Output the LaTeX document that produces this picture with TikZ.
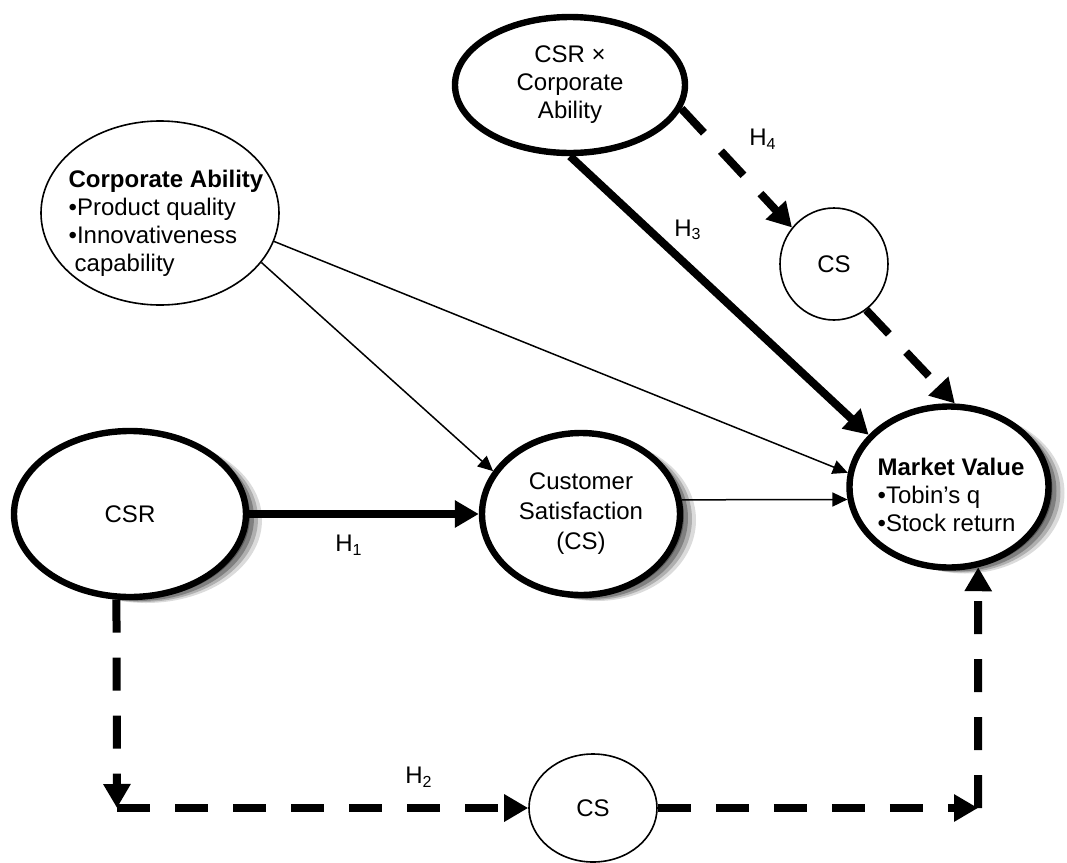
\documentclass[tikz,border=0pt]{standalone}
\usepackage{fontspec}
\setmainfont{Liberation Sans}
\usetikzlibrary{arrows.meta,shapes.geometric,shadows}
\begin{document}
\begin{tikzpicture}[x=0.5pt,y=-0.5pt,
  every node/.style={font=\fontsize{12}{14}\selectfont},
  oval/.style={ellipse, draw, fill=white, inner sep=0pt, line width=0.8pt},
  boldoval/.style={oval, line width=3.2pt},
  softshadow/.style={
    drop shadow={shadow xshift=2pt, shadow yshift=-1pt, opacity=0.3, fill=black, draw=none},
    drop shadow={shadow xshift=4pt, shadow yshift=-2pt, opacity=0.27, fill=black, draw=none},
    drop shadow={shadow xshift=6pt, shadow yshift=-2.5pt, opacity=0.2, fill=black, draw=none},
    drop shadow={shadow xshift=8pt, shadow yshift=-3pt, opacity=0.14, fill=black, draw=none}},
  thinarr/.style={line width=0.75pt, -{Triangle[length=7.5pt,width=7pt]}},
  thickarr/.style={line width=4pt, -{Triangle[length=12pt,width=13pt]}},
  dasharr/.style={thickarr, dash pattern=on 16.5pt off 12.5pt},
  hlabel/.style={inner sep=1pt}
]
\useasboundingbox (0,0) rectangle (1067,863);

% nodes
\node[boldoval, minimum width=115pt, minimum height=68pt, align=center] (csrca) at (570,85)
  {CSR \texttimes\\Corporate\\Ability};
\node[oval, minimum width=119pt, minimum height=92pt] (ca) at (160,213) {};
\node[align=left, inner sep=0pt] (catext) at (166,223)
  {\textbf{Corporate Ability}\\•Product quality\\•Innovativeness\\\hspace{3pt}capability};
\node[boldoval, softshadow, minimum width=116pt, minimum height=83pt] (csr) at (130,514) {CSR};
\node[boldoval, softshadow, minimum width=99pt, minimum height=81pt, align=center,
  font=\fontsize{12}{15}\selectfont] (custsat) at (581,514)
  {Customer\\Satisfaction\\(CS)};
\node[boldoval, softshadow, minimum width=99.5pt, minimum height=80.5pt] (mv) at (949,487) {};
\node[align=left, inner sep=0pt] (mvtext) at (951,495)
  {\textbf{Market Value}\\•Tobin’s q\\•Stock return};
\node[oval, minimum width=54pt, minimum height=56pt] (cs1) at (834,264) {CS};
\node[oval, minimum width=64pt, minimum height=54pt] (cs2) at (593,808) {CS};

\coordinate (c1) at (117,808);
\coordinate (c2) at (978,808);

% connectors
\draw[thinarr] (ca.-26) -- (custsat.154);
\draw[thinarr] (ca.-14) -- (mv.172);
\draw[thinarr] (custsat.8) -- (mv.187);
\draw[thickarr] (csr.east) -- (custsat.west);
\draw[thickarr] (csrca.south) -- (mv.147);
\draw[dasharr] (csrca.-12) -- (cs1.139);
\draw[dasharr] (cs1.-55) -- (mv.86);
\draw[dasharr] (csr.-99) -- (c1);
\draw[dasharr] (c1) -- (cs2.west);
\draw[dasharr] (cs2.east) -- (c2);
\draw[dasharr] (c2) -- (mv.-70);

% labels
\node[hlabel] (h1) at (349,545) {H\textsubscript{1}};
\node[hlabel] (h2) at (419,777) {H\textsubscript{2}};
\node[hlabel] (h3) at (688,230) {H\textsubscript{3}};
\node[hlabel] (h4) at (763,139) {H\textsubscript{4}};
\end{tikzpicture}
\end{document}
